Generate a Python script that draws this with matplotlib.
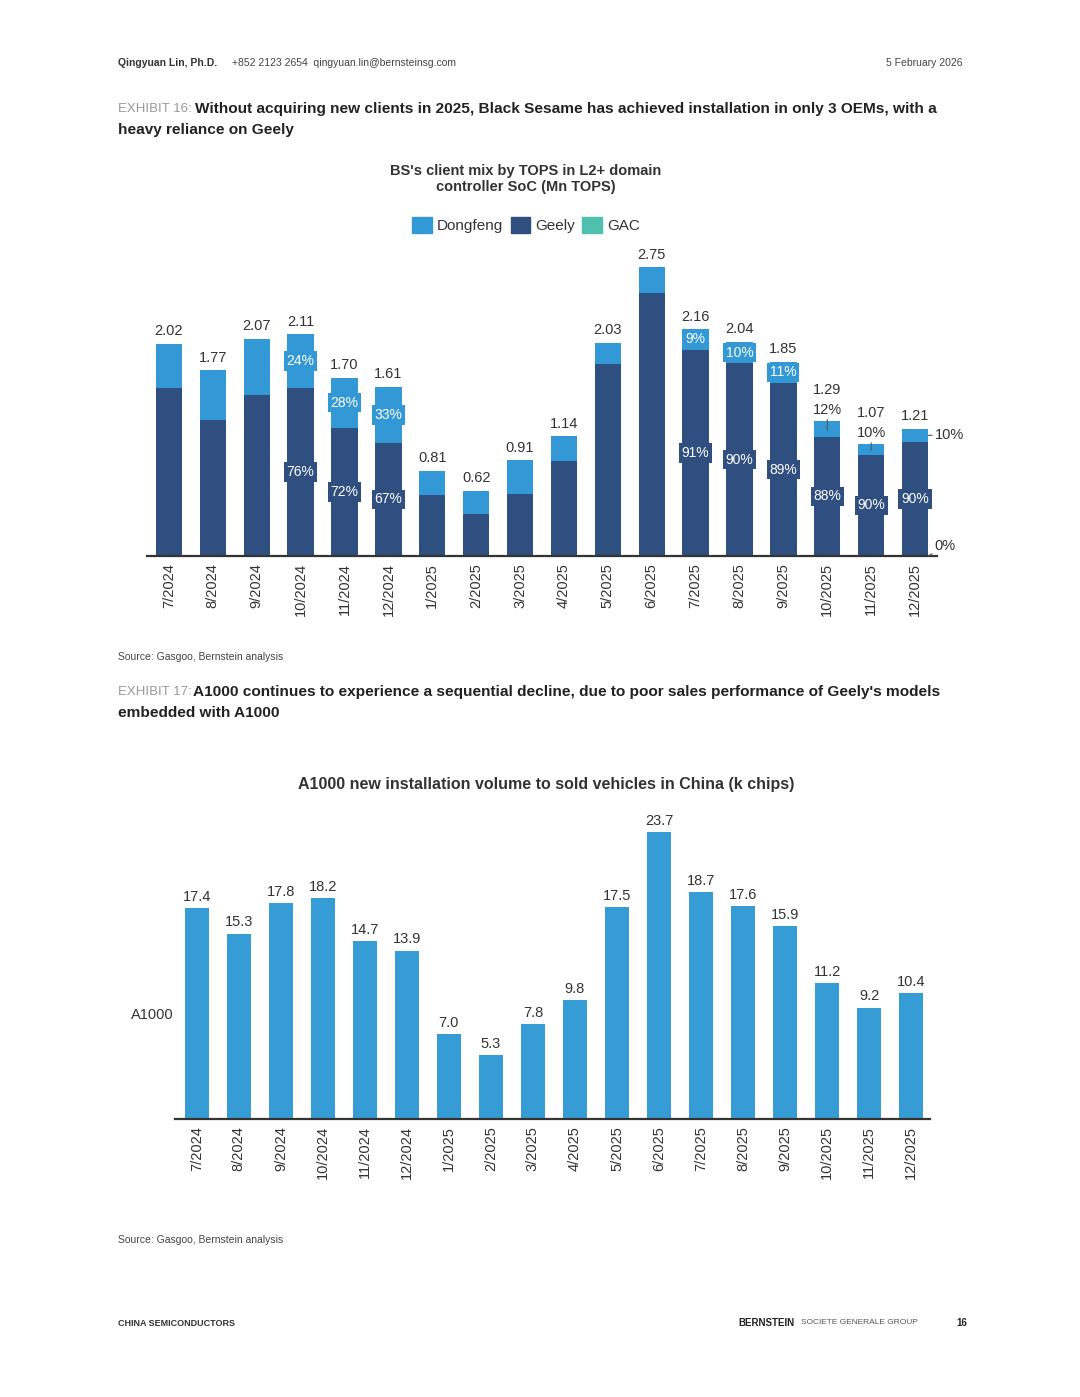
import matplotlib
matplotlib.use("Agg")
from matplotlib import pyplot as plt
from matplotlib import font_manager
from matplotlib.patches import Patch

months = ["7/2024", "8/2024", "9/2024", "10/2024", "11/2024", "12/2024",
          "1/2025", "2/2025", "3/2025", "4/2025", "5/2025", "6/2025",
          "7/2025", "8/2025", "9/2025", "10/2025", "11/2025", "12/2025"]

# exhibit 16: total TOPS (Mn) and client shares (%)
tops_total = [2.02, 1.77, 2.07, 2.11, 1.70, 1.61, 0.81, 0.62, 0.91, 1.14,
              2.03, 2.75, 2.16, 2.04, 1.85, 1.29, 1.07, 1.21]
dongfeng_pct = [21, 27, 26, 24, 28, 33, 28, 35, 35, 21, 10, 9, 9, 10, 11, 12, 10, 10]
geely_pct = [79, 73, 74, 76, 72, 67, 72, 65, 65, 79, 90, 91, 91, 90, 89, 88, 90, 90]
gac_pct = [0] * 18

# exhibit 17: A1000 installs (k chips)
a1000 = [17.4, 15.3, 17.8, 18.2, 14.7, 13.9, 7.0, 5.3, 7.8, 9.8,
         17.5, 23.7, 18.7, 17.6, 15.9, 11.2, 9.2, 10.4]

C_DF = "#3399d6"
C_GEELY = "#2f4f80"
C_GAC = "#4fbfae"
C_BAR2 = "#369cd5"
TXT = "#333333"

W, H = 1080, 1397

installed = {f.name for f in font_manager.fontManager.ttflist}
NARROW = "Liberation Sans Narrow" if "Liberation Sans Narrow" in installed else "Liberation Sans"
plt.rcParams["font.family"] = ["Liberation Sans", "DejaVu Sans"]


def fx(px):
    return px / W


def fy(py):
    return 1 - py / H


def rect(left, top, right, bottom):
    return [left / W, 1 - bottom / H, (right - left) / W, (bottom - top) / H]


def style_axis(ax):
    for s in ["top", "right", "left"]:
        ax.spines[s].set_visible(False)
    ax.spines["bottom"].set_color("#333333")
    ax.spines["bottom"].set_linewidth(1.6)
    ax.set_yticks([])
    ax.tick_params(axis="x", length=0, pad=5, labelsize=10.5, labelcolor=TXT)
    ax.set_xticks(range(len(months)))
    ax.set_xticklabels(months, rotation=90)


fig = plt.figure(figsize=(W / 100, H / 100), dpi=100)

# page header
fig.text(fx(118), fy(63), "Qingyuan Lin, Ph.D.", fontsize=7.5, fontweight="bold", color="#333", va="center")
fig.text(fx(232), fy(63), "+852 2123 2654  qingyuan.lin@bernsteinsg.com", fontsize=7.5, color="#444", va="center")
fig.text(fx(962), fy(63), "5 February 2026", fontsize=7.5, color="#444", va="center", ha="right")

fig.text(fx(118), fy(109), "EXHIBIT 16:", fontsize=9.5, color="#999", va="center", family=NARROW)
fig.text(fx(195), fy(109), "Without acquiring new clients in 2025, Black Sesame has achieved installation in only 3 OEMs, with a",
         fontsize=11.1, fontweight="bold", color="#222", va="center", family=NARROW)
fig.text(fx(118), fy(130), "heavy reliance on Geely", fontsize=11.1, fontweight="bold", color="#222", va="center", family=NARROW)

# ---- chart 1 ----
ax1 = fig.add_axes(rect(147, 240, 937, 556))
x = list(range(len(months)))
geely = [t * g / 100 for t, g in zip(tops_total, geely_pct)]
dongfeng = [t * d / 100 for t, d in zip(tops_total, dongfeng_pct)]
gac = [t * c / 100 for t, c in zip(tops_total, gac_pct)]
bw = 0.6
ax1.bar(x, geely, width=bw, color=C_GEELY)
ax1.bar(x, dongfeng, width=bw, bottom=geely, color=C_DF)
ax1.bar(x, gac, width=bw, bottom=[g + d for g, d in zip(geely, dongfeng)], color=C_GAC)
ax1.set_xlim(-0.5, 17.5)
ax1.set_ylim(0, 3.01)
style_axis(ax1)

above_pct = [15, 16]
for i, t in enumerate(tops_total):
    lift = 17 if i in above_pct else 4
    ax1.annotate(f"{t:.2f}", (i, t), xytext=(0, lift), textcoords="offset points",
                 ha="center", va="bottom", fontsize=10.5, color=TXT)

df_box = [3, 4, 5, 12, 13, 14]
for i in df_box:
    ax1.text(i, geely[i] + dongfeng[i] / 2, f"{dongfeng_pct[i]}%", ha="center", va="center",
             fontsize=10, color="white",
             bbox=dict(boxstyle="square,pad=0.2", fc=C_DF, ec="none"))
geely_box = [3, 4, 5, 12, 13, 14, 15, 16, 17]
for i in geely_box:
    ax1.text(i, geely[i] / 2, f"{geely_pct[i]}%", ha="center", va="center",
             fontsize=10, color="white",
             bbox=dict(boxstyle="square,pad=0.2", fc=C_GEELY, ec="none"))
for i in above_pct:
    ax1.annotate(f"{dongfeng_pct[i]}%", (i, geely[i] + dongfeng[i] * 0.4),
                 xytext=(i, tops_total[i] + 0.035), ha="center", va="bottom",
                 fontsize=10.5, color=TXT,
                 arrowprops=dict(arrowstyle="-", color="#555", lw=0.8, shrinkA=0, shrinkB=0))
ax1.annotate(f"{dongfeng_pct[17]}%", (17 + bw / 2, geely[17] + dongfeng[17] / 2),
             xytext=(17.45, geely[17] + dongfeng[17] / 2), ha="left", va="center",
             fontsize=10.5, color=TXT, annotation_clip=False,
             arrowprops=dict(arrowstyle="-", color="#555", lw=0.8, shrinkA=0, shrinkB=0))
ax1.annotate(f"{gac_pct[17]}%", (17 + bw / 2, 0.0),
             xytext=(17.45, 0.1), ha="left", va="center",
             fontsize=10.5, color=TXT, annotation_clip=False,
             arrowprops=dict(arrowstyle="-", color="#555", lw=0.8, shrinkA=0, shrinkB=0))

fig.text(fx(526), fy(179), "BS's client mix by TOPS in L2+ domain\ncontroller SoC (Mn TOPS)",
         ha="center", va="center", fontsize=10.5, fontweight="bold", color=TXT, linespacing=1.25)
handles = [Patch(color=C_DF, label="Dongfeng"), Patch(color=C_GEELY, label="Geely"), Patch(color=C_GAC, label="GAC")]
fig.legend(handles=handles, loc="center", bbox_to_anchor=(fx(526), fy(225)), ncol=3, frameon=False,
           fontsize=11, handlelength=1.3, handleheight=1.3, handletextpad=0.3, columnspacing=0.5,
           labelcolor=TXT)

fig.text(fx(118), fy(657), "Source: Gasgoo, Bernstein analysis", fontsize=7.5, color="#444", va="center")

fig.text(fx(118), fy(692), "EXHIBIT 17:", fontsize=9.5, color="#999", va="center", family=NARROW)
fig.text(fx(193), fy(692), "A1000 continues to experience a sequential decline, due to poor sales performance of Geely's models",
         fontsize=11.1, fontweight="bold", color="#222", va="center", family=NARROW)
fig.text(fx(118), fy(713), "embedded with A1000", fontsize=11.1, fontweight="bold", color="#222", va="center", family=NARROW)

# ---- chart 2 ----
ax2 = fig.add_axes(rect(175, 810, 930, 1119))
ax2.bar(x, a1000, width=0.57, color=C_BAR2)
ax2.set_xlim(-0.52, 17.45)
ax2.set_ylim(0, 25.5)
style_axis(ax2)
for i, v in enumerate(a1000):
    ax2.annotate(f"{v:.1f}", (i, v), xytext=(0, 3), textcoords="offset points",
                 ha="center", va="bottom", fontsize=10.5, color=TXT)

fig.text(fx(546), fy(785), "A1000 new installation volume to sold vehicles in China (k chips)",
         ha="center", va="center", fontsize=11.5, fontweight="bold", color=TXT)
fig.text(fx(152), fy(1015), "A1000", ha="center", va="center", fontsize=10.5, color=TXT)

fig.text(fx(118), fy(1240), "Source: Gasgoo, Bernstein analysis", fontsize=7.5, color="#444", va="center")

# footer
fig.text(fx(118), fy(1323), "CHINA SEMICONDUCTORS", fontsize=6.5, fontweight="bold", color="#333", va="center", family=NARROW)
fig.text(fx(738), fy(1323), "BERNSTEIN", fontsize=7, fontweight="bold", color="#222", va="center", family=NARROW)
fig.text(fx(801), fy(1323), "SOCIETE GENERALE GROUP", fontsize=6, color="#555", va="center")
fig.text(fx(956), fy(1323), "16", fontsize=7, fontweight="bold", color="#222", va="center", family=NARROW)

fig.savefig("out.png", dpi=100)
